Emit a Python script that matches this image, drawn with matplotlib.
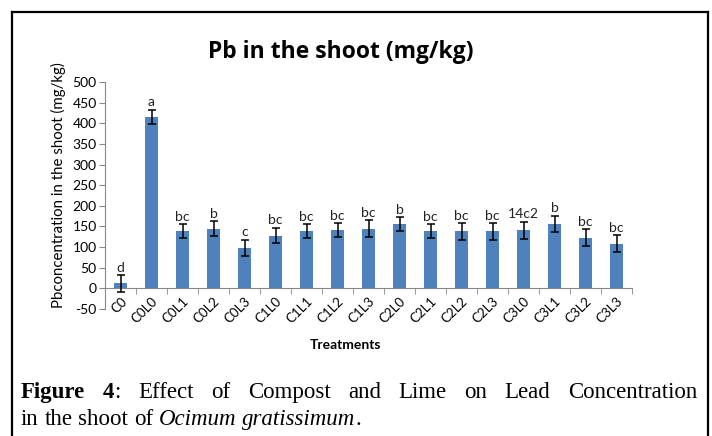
import numpy as np
import matplotlib
matplotlib.use("Agg")
import matplotlib.pyplot as plt
from matplotlib.lines import Line2D

plt.rcParams["axes.unicode_minus"] = False

treatments = ["C0", "C0L0", "C0L1", "C0L2", "C0L3", "C1L0", "C1L1", "C1L2", "C1L3",
              "C2L0", "C2L1", "C2L2", "C2L3", "C3L0", "C3L1", "C3L2", "C3L3"]
pb_shoot = [12, 416, 138, 145, 98, 128, 138, 141, 145, 156, 138, 138, 138, 141, 156, 123, 108]
pb_err = [20, 17, 17, 18, 20, 19, 17, 17, 20, 17, 17, 20, 20, 21, 20, 20, 21]
letters = ["d", "a", "bc", "b", "c", "bc", "bc", "bc", "bc", "b", "bc", "bc", "bc",
           "14c2", "b", "bc", "bc"]

W, H = 712, 436
fig = plt.figure(figsize=(W / 100, H / 100), dpi=100)
renderer = fig.canvas.get_renderer()

# outer frame (open at the bottom)
for xs, ys in [([12, 12], [12, 436]), ([12, 708], [12, 12]), ([708, 708], [12, 436])]:
    fig.add_artist(Line2D([x / W for x in xs], [1 - y / H for y in ys],
                          color="black", lw=1.6))

ax = fig.add_axes([105 / W, 1 - 309 / H, (632 - 105) / W, (309 - 82) / H])
x = np.arange(len(treatments))
ax.bar(x, pb_shoot, width=0.42, color="#4F81BD", zorder=2)
ax.errorbar(x, pb_shoot, yerr=pb_err, fmt="none", ecolor="black", elinewidth=1.1,
            capsize=3, capthick=1.1, zorder=3)
for xi, v, e, lab in zip(x, pb_shoot, pb_err, letters):
    ax.text(xi, v + e + 3, lab, ha="center", va="bottom", fontsize=10,
            family="Lato", color="#222222")

ax.set_xlim(-0.5, len(treatments) - 0.5)
ax.set_ylim(-50, 500)
ax.set_yticks(np.arange(-50, 501, 50))
for s in ["top", "right"]:
    ax.spines[s].set_visible(False)
ax.spines["bottom"].set_position(("data", 0))
ax.spines["left"].set_color("#888888")
ax.spines["bottom"].set_color("#888888")
ax.tick_params(axis="y", direction="out", length=4, color="#888888",
               labelsize=10, pad=2)
ax.set_xticks(x)
ax.set_xticklabels(treatments, rotation=45, ha="right", rotation_mode="anchor",
                   fontsize=9.5, family="Lato")
ax.tick_params(axis="x", which="major", length=0, pad=5)
ax.set_xticks(np.arange(-0.5, len(treatments)), minor=True)
ax.tick_params(axis="x", which="minor", direction="out", length=4, color="#888888")
for t in ax.get_yticklabels():
    t.set_family("Lato")

fig.text(341 / W, 1 - 52 / H, "Pb in the shoot (mg/kg)", ha="center", va="center",
         fontsize=16.5, fontweight="bold", family="Open Sans")
fig.text(58 / W, 1 - 185 / H, "Pbconcentration in the shoot (mg/kg)", rotation=90,
         ha="center", va="center", fontsize=10.8, family="Lato")
fig.text(345 / W, 1 - 345 / H, "Treatments", ha="center", va="center",
         fontsize=10, fontweight="bold", family="Lato")

# caption, first line justified between x0 and x1
cap_font = dict(family="Liberation Serif", fontsize=16.5)
line1 = [[("Figure", "bold", "normal")], [("4", "bold", "normal"), (":", "normal", "normal")],
         [("Effect", "normal", "normal")], [("of", "normal", "normal")],
         [("Compost", "normal", "normal")], [("and", "normal", "normal")],
         [("Lime", "normal", "normal")], [("on", "normal", "normal")],
         [("Lead", "normal", "normal")], [("Concentration", "normal", "normal")]]
line2 = [[("in", "normal", "normal")], [("the", "normal", "normal")],
         [("shoot", "normal", "normal")], [("of", "normal", "normal")],
         [("Ocimum", "normal", "italic")],
         [("gratissimum", "normal", "italic"), (".", "normal", "normal")]]


def measure(seg):
    t = fig.text(0, 0, seg[0], fontweight=seg[1], style=seg[2], **cap_font)
    w = t.get_window_extent(renderer).width
    t.remove()
    return w


def draw_line(groups, y, x0, x1=None):
    widths = [[measure(s) for s in g] for g in groups]
    totals = [sum(w) for w in widths]
    space = measure(("x x", "normal", "normal")) - 2 * measure(("x", "normal", "normal"))
    if x1 is not None:
        space = (x1 - x0 - sum(totals)) / (len(groups) - 1)
    xp = x0
    for g, ws in zip(groups, widths):
        for s, w in zip(g, ws):
            fig.text(xp / W, 1 - y / H, s[0], fontweight=s[1], style=s[2],
                     va="baseline", ha="left", **cap_font)
            xp += w
        xp += space


draw_line(line1, 398, 21, 697)
draw_line(line2, 425, 21)

fig.savefig("out.png", dpi=100)
